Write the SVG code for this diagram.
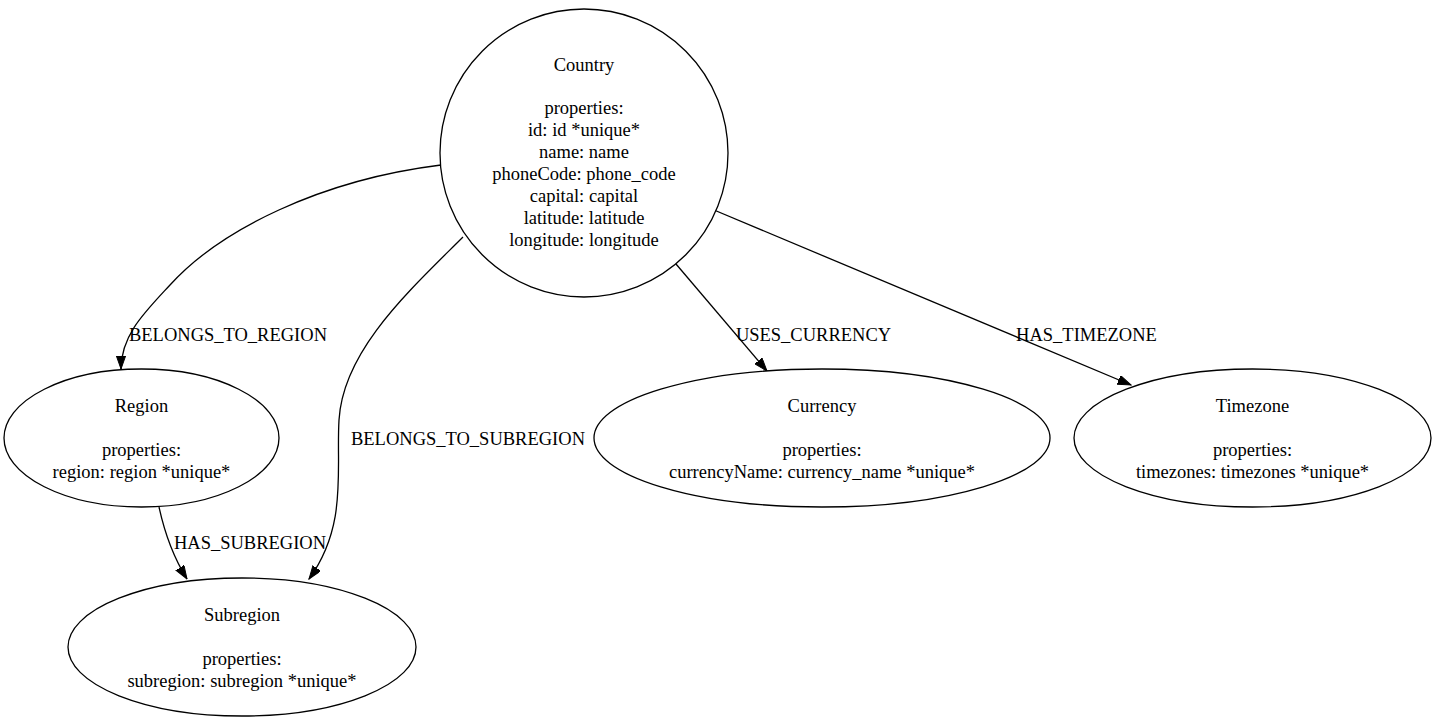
<svg xmlns="http://www.w3.org/2000/svg" width="1435" height="719" viewBox="0 0 1435 719">
<style>
.n{fill:#fff;stroke:#000;stroke-width:1.3}
.e{fill:none;stroke:#000;stroke-width:1.3}
text{font-family:"Liberation Serif","Times New Roman",serif;font-size:18.5px;fill:#000;text-anchor:middle}
</style>
<defs>
<marker id="ah" markerUnits="userSpaceOnUse" markerWidth="14" markerHeight="10" refX="13.3" refY="4.7" orient="auto" viewBox="0 0 14 10">
<path d="M0,0 L13.3,4.7 L0,9.4 z" fill="#000" stroke="#000" stroke-width="1"/>
</marker>
</defs>
<rect width="1435" height="719" fill="#fff"/>
<g id="edges">
<path class="e" marker-end="url(#ah)" d="M441,165 C320,180 220,230 170,285 C145,312 121,335 121,369"/>
<path class="e" marker-end="url(#ah)" d="M463,237 C410,290 343,350 339,420 C336,470 348,525 309,579"/>
<path class="e" marker-end="url(#ah)" d="M676,264 L767,371"/>
<path class="e" marker-end="url(#ah)" d="M714,210 L1131,385"/>
<path class="e" marker-end="url(#ah)" d="M159,507 C164,530 172,555 187,579"/>
<text x="228" y="341">BELONGS_TO_REGION</text>
<text x="468" y="445">BELONGS_TO_SUBREGION</text>
<text x="813.5" y="341">USES_CURRENCY</text>
<text x="1086.5" y="341">HAS_TIMEZONE</text>
<text x="250" y="549">HAS_SUBREGION</text>
</g>
<g id="country">
<circle class="n" cx="584" cy="153" r="144"/>
<text x="584" y="71">Country</text>
<text x="584" y="114">properties:</text>
<text x="584" y="136">id: id *unique*</text>
<text x="584" y="158">name: name</text>
<text x="584" y="180">phoneCode: phone_code</text>
<text x="584" y="202">capital: capital</text>
<text x="584" y="224">latitude: latitude</text>
<text x="584" y="246">longitude: longitude</text>
</g>
<g id="region">
<ellipse class="n" cx="141.5" cy="438" rx="137.5" ry="69"/>
<text x="141.5" y="412">Region</text>
<text x="141.5" y="456">properties:</text>
<text x="141.5" y="478">region: region *unique*</text>
</g>
<g id="currency">
<ellipse class="n" cx="822" cy="438" rx="228" ry="69"/>
<text x="822" y="412">Currency</text>
<text x="822" y="456">properties:</text>
<text x="822" y="478">currencyName: currency_name *unique*</text>
</g>
<g id="timezone">
<ellipse class="n" cx="1252.5" cy="438" rx="178.5" ry="69"/>
<text x="1252.5" y="412">Timezone</text>
<text x="1252.5" y="456">properties:</text>
<text x="1252.5" y="478">timezones: timezones *unique*</text>
</g>
<g id="subregion">
<ellipse class="n" cx="242" cy="647" rx="174" ry="69"/>
<text x="242" y="621">Subregion</text>
<text x="242" y="665">properties:</text>
<text x="242" y="687">subregion: subregion *unique*</text>
</g>
</svg>
